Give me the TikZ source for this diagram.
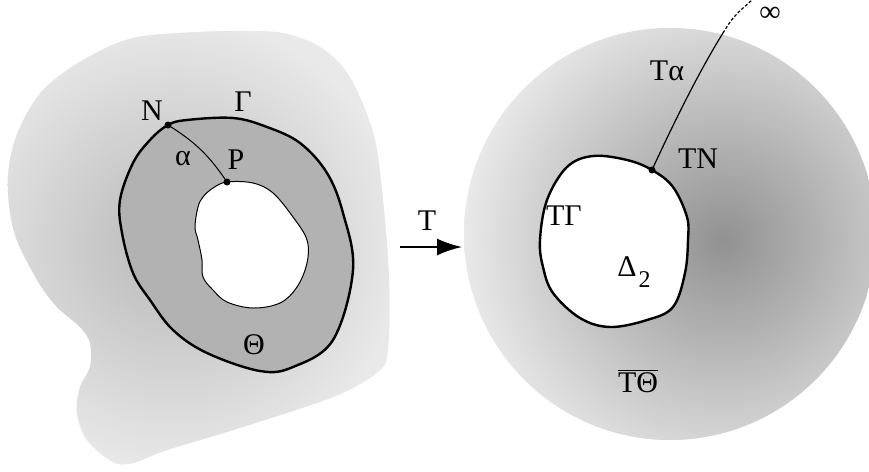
\documentclass[tikz,border=0pt]{standalone}
\usepackage{fontspec}
\setmainfont{Liberation Serif}
\usetikzlibrary{arrows.meta}
\definecolor{ringgray}{gray}{0.70}
\definecolor{blobin}{gray}{0.72}
\definecolor{blobout}{gray}{0.915}
\definecolor{discin}{gray}{0.57}
\definecolor{discout}{gray}{0.92}
\pgfdeclareradialshading{blobshade}{\pgfpoint{0bp}{0bp}}{color(0bp)=(blobin); color(25bp)=(blobout); color(50bp)=(blobout)}
\pgfdeclareradialshading{discshade}{\pgfpoint{0bp}{0bp}}{color(0bp)=(discin); color(25bp)=(discout); color(50bp)=(discout)}
\begin{document}
\begin{tikzpicture}[x=0.5pt,y=-0.5pt,
  lbl/.style={font=\fontsize{15pt}{18pt}\selectfont, inner sep=0pt},
  thickline/.style={line width=1.2pt},
  thinline/.style={line width=0.5pt},
  dot/.style={circle, fill=black, inner sep=0pt, minimum size=3.5pt}]
\useasboundingbox (0,0) rectangle (869,472);

% ---- left blob ----
\begin{scope}
\clip plot[smooth cycle, tension=0.55] coordinates {(200,32) (250,31) (283,33) (317,45) (343,67) (360,97) (375,140) (383,200) (389,280) (388,350) (378,372) (333,397) (233,430) (167,450) (133,463) (113,462) (87,440) (77,413) (80,387) (90,367) (90,343) (80,327) (57,307) (37,280) (15,235) (8,193) (10,160) (20,127) (43,90) (83,60) (133,38)};
\fill[blobout] (0,0) rectangle (440,472);
\shade[shading=blobshade] (175,245) circle[radius=115pt];
\end{scope}

% ---- ring Gamma ----
\draw[thickline, fill=ringgray] plot[smooth cycle, tension=0.6] coordinates {(168,125) (187,120) (233,118) (267,127) (300,143) (327,173) (343,213) (353,270) (333,340) (293,367) (260,371) (207,353) (173,330) (150,300) (133,273) (122,233) (120,200) (133,163) (150,140)};

% ---- hole ----
\draw[thinline, fill=white] plot[smooth cycle, tension=0.6] coordinates {(227,182) (253,183) (273,193) (293,217) (307,240) (307,263) (297,287) (280,303) (253,308) (227,302) (213,290) (203,277) (202,260) (198,240) (195,227) (198,207) (203,197) (213,188)};

\coordinate (N) at (168,125);
\coordinate (P) at (227,182);
\draw[thinline] (N) to[bend left=12] (P);
\node[dot] (dN) at (N) {};
\node[dot] (dP) at (P) {};

\node[lbl] (lN) at (152,111) {N};
\node[lbl] (lG) at (243,102) {Γ};
\node[lbl] (la) at (183,159) {α};
\node[lbl] (lP) at (236,160) {P};
\node[lbl] (lTh) at (254,345) {Θ};

% ---- arrow T ----
\coordinate (A1) at (400,247);
\coordinate (A2) at (462,247);
\draw[line width=1pt, -{Latex[length=12.5pt,width=8.5pt]}] (A1) -- (A2);
\node[lbl] (lT) at (427,221) {T};

% ---- right disc ----
\begin{scope}
\clip (670,234) circle[radius=103pt];
\fill[discout] (440,0) rectangle (900,472);
\shade[shading=discshade] (723,240) circle[radius=132pt];
\end{scope}

\draw[thickline, fill=white] plot[smooth cycle, tension=0.6] coordinates {(652,170) (673,187) (687,217) (688,240) (685,273) (673,307) (647,320) (610,327) (580,318) (553,293) (543,267) (540,240) (547,200) (567,167) (593,156) (627,160)};

\coordinate (TN) at (652,170);
\coordinate (Tm) at (723,33);
\coordinate (Tend) at (752,0);
\draw[line width=0.6pt] (TN) .. controls (675,120) and (700,70) .. (Tm);
\draw[line width=0.6pt, dash pattern=on 1.5pt off 1pt] (Tm) .. controls (733,17) .. (Tend);
\node[dot] (dTN) at (TN) {};

\node[lbl] (lTa) at (667,71) {Tα};
\node[lbl] (linf) at (770,14) {∞};
\node[lbl] (lTN) at (698,159) {TN};
\node[lbl] (lTG) at (564,216) {TΓ};
\node[lbl] (lD) at (634,272) {Δ\kern1pt\raisebox{-0.35em}{\fontsize{12pt}{13pt}\selectfont 2}};
\node[lbl] (lTT) at (638,381) {$\overline{\hbox{TΘ}}$};
\end{tikzpicture}
\end{document}
